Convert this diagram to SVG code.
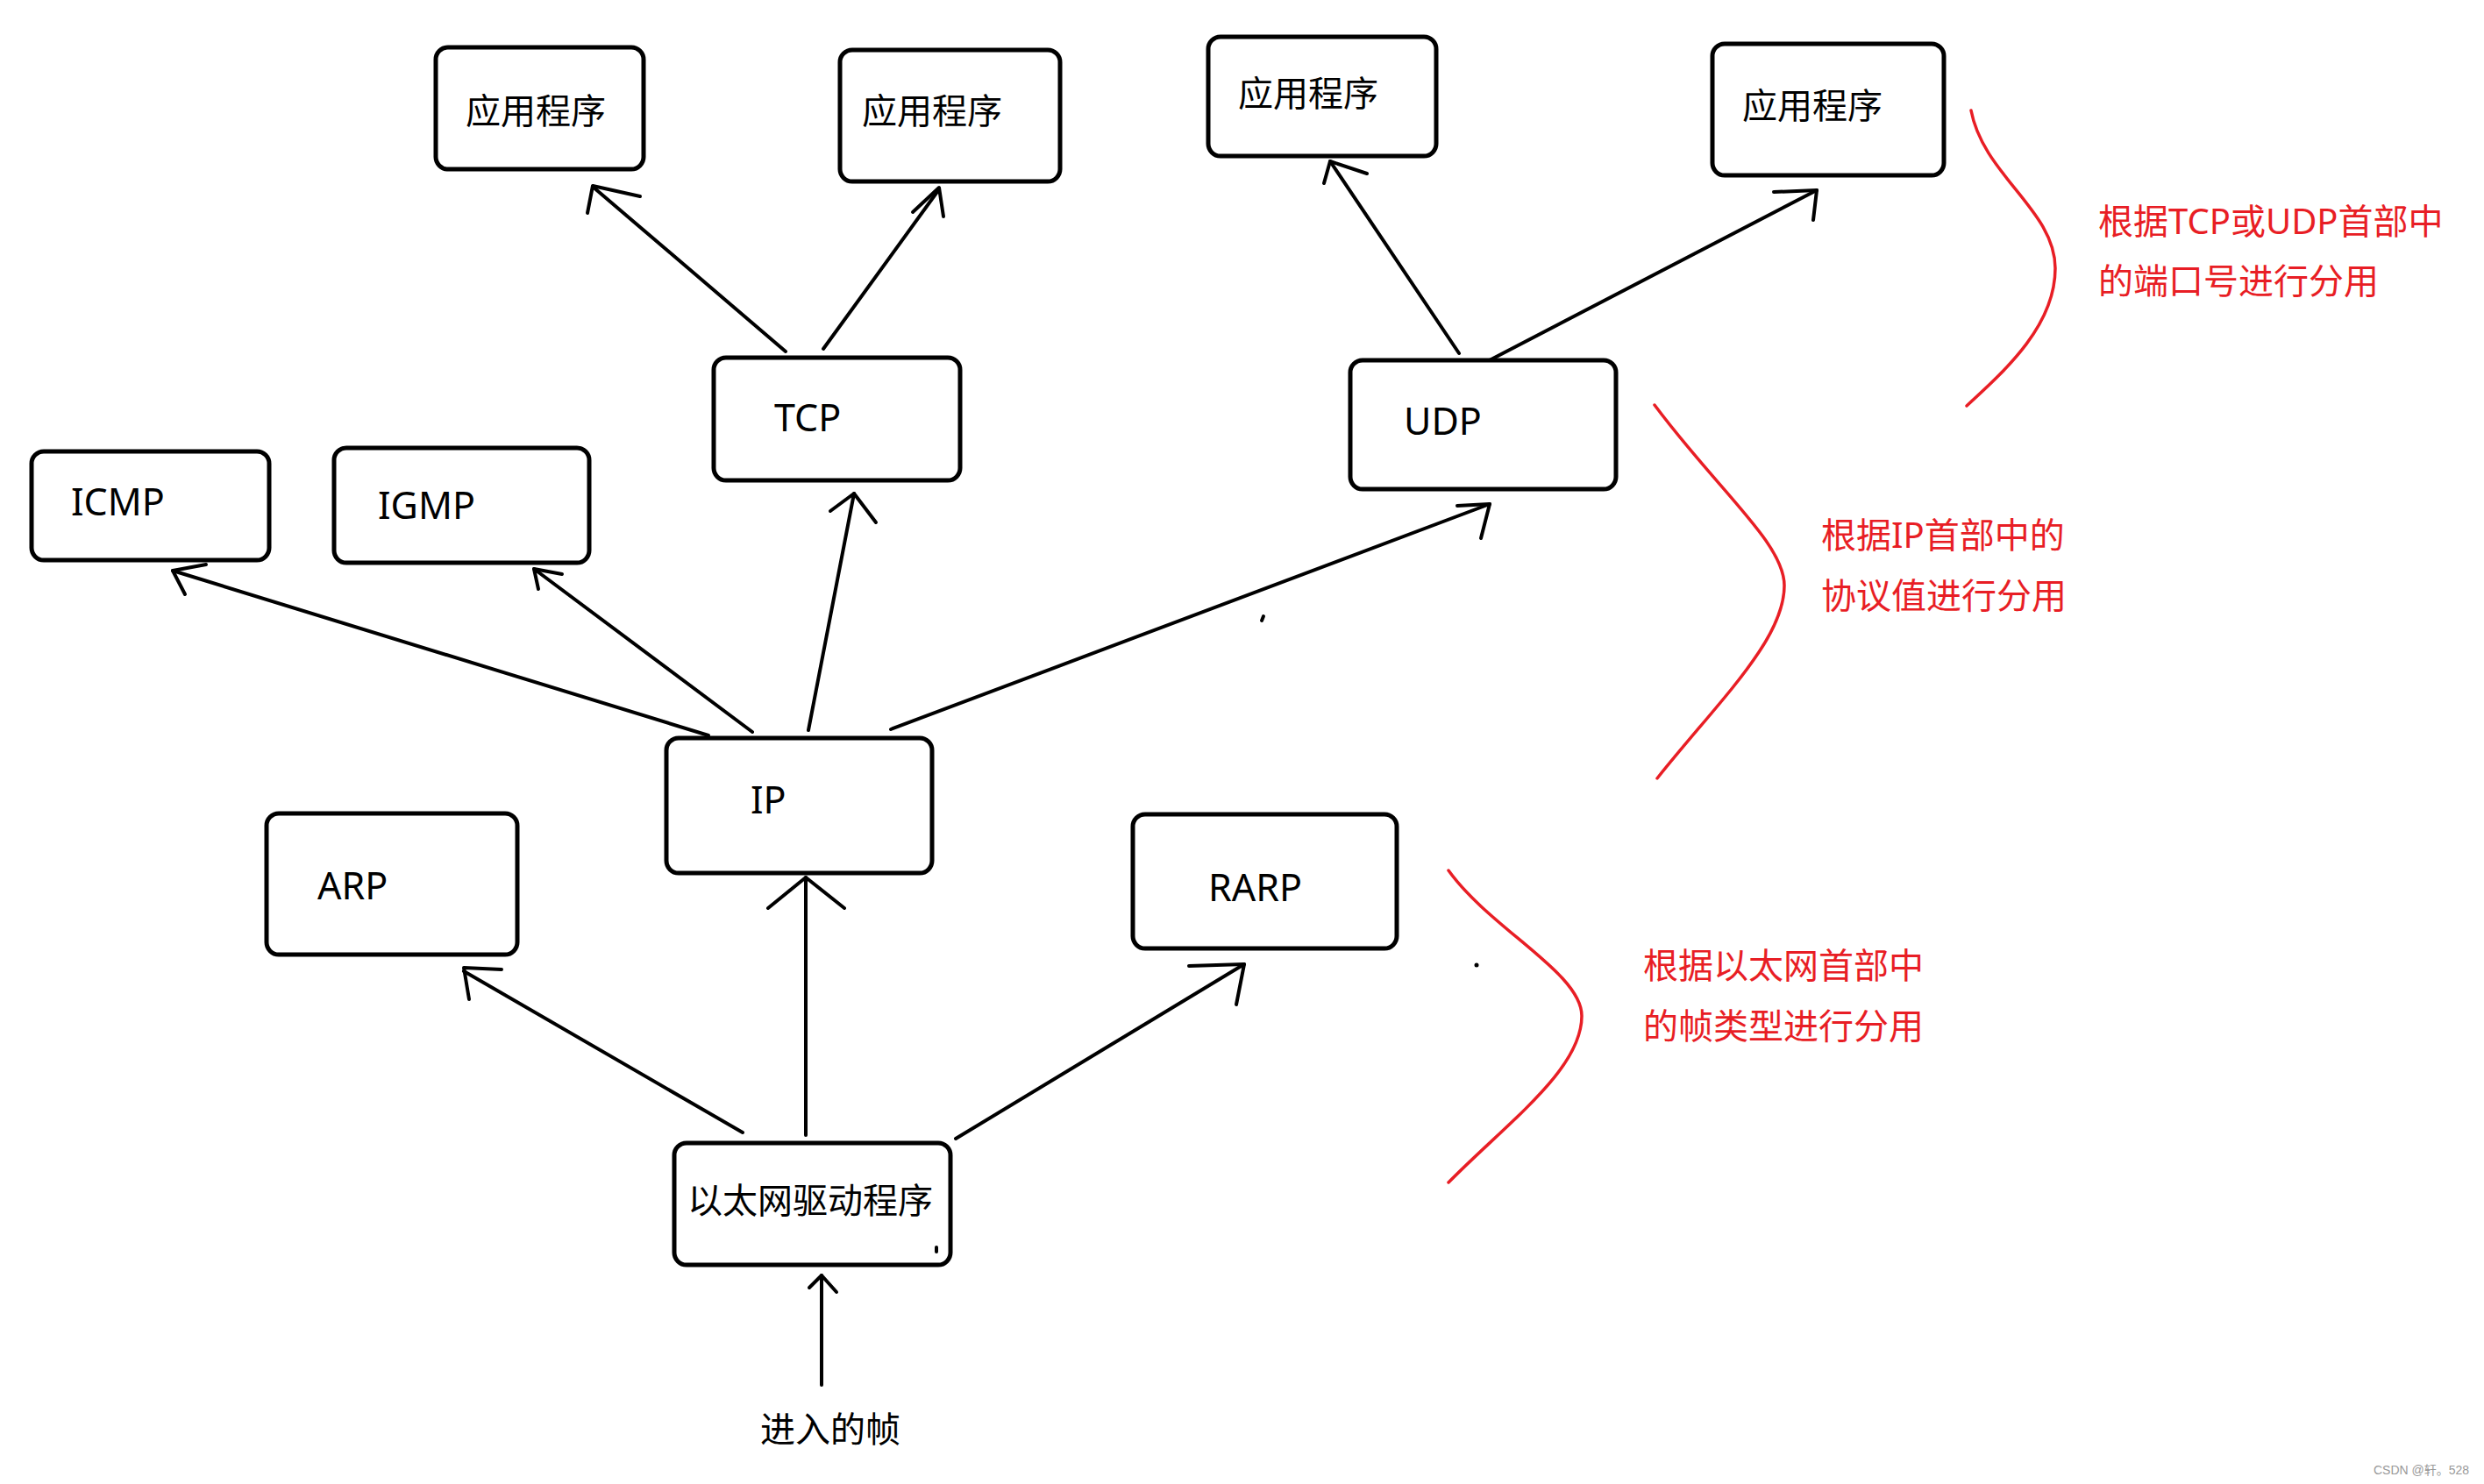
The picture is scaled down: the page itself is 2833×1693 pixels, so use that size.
<svg xmlns="http://www.w3.org/2000/svg" width="2833" height="1693" viewBox="0 0 2833 1693">
<style>
.box{fill:#fff;stroke:#000;stroke-width:5}
.t{font-family:"Noto Sans","Noto Sans CJK SC",sans-serif;font-size:40px;fill:#000}
.lt{font-family:"Noto Sans","Noto Sans CJK SC",sans-serif;font-size:43px;fill:#000}
.r{font-family:"Noto Sans","Noto Sans CJK SC",sans-serif;font-size:40px;fill:#e81e25}
.ln{fill:none;stroke:#000;stroke-width:4;stroke-linecap:round;stroke-linejoin:round}
.rc{fill:none;stroke:#e81e25;stroke-width:3.5;stroke-linecap:round}
</style>
<rect width="2833" height="1693" fill="#fff"/>
<g id="connectors">
<g id="tcp-app1"><path class="ln" d="M896,401 L676,213"/><path class="ln" d="M670,243 L676,212 L730,224"/></g>
<g id="tcp-app2"><path class="ln" d="M939,398 L1071,216"/><path class="ln" d="M1041,242 L1071,214 L1076,247"/></g>
<g id="udp-app3"><path class="ln" d="M1664,403 L1517,184"/><path class="ln" d="M1510,209 L1517,184 L1559,198"/></g>
<g id="udp-app4"><path class="ln" d="M1693,414 L2072,217"/><path class="ln" d="M2023,219 L2072,217 L2068,251"/></g>
<g id="ip-icmp"><path class="ln" d="M808,839 L197,651"/><path class="ln" d="M235,644 L197,651 L211,678"/></g>
<g id="ip-igmp"><path class="ln" d="M858,835 L609,649"/><path class="ln" d="M641,655 L609,649 L614,672"/></g>
<g id="ip-tcp"><path class="ln" d="M922,833 L974,563"/><path class="ln" d="M947,583 L974,563 L999,596"/></g>
<g id="ip-udp"><path class="ln" d="M1016,832 L1699,575"/><path class="ln" d="M1662,577 L1699,575 L1689,614"/></g>
<g id="drv-arp"><path class="ln" d="M847,1292 L529,1108"/><path class="ln" d="M572,1106 L529,1104 L535,1140"/></g>
<g id="drv-ip"><path class="ln" d="M919,1295 L919,1001"/><path class="ln" d="M876,1036 L919,1001 L963,1036"/></g>
<g id="drv-rarp"><path class="ln" d="M1090,1299 L1419,1100"/><path class="ln" d="M1356,1102 L1419,1100 L1410,1146"/></g>
<g id="frame-drv"><path class="ln" d="M937,1580 L937,1455"/><path class="ln" d="M923,1469 L937,1455 L954,1474"/></g>
</g>
<g id="app1"><rect class="box" x="497" y="54" width="237" height="139" rx="14"/><text class="t" x="531" y="141">应用程序</text></g>
<g id="app2"><rect class="box" x="958" y="57" width="251" height="150" rx="14"/><text class="t" x="983" y="141">应用程序</text></g>
<g id="app3"><rect class="box" x="1378" y="42" width="260" height="136" rx="14"/><text class="t" x="1412" y="121">应用程序</text></g>
<g id="app4"><rect class="box" x="1953" y="50" width="264" height="150" rx="14"/><text class="t" x="1987" y="135">应用程序</text></g>
<g id="tcp"><rect class="box" x="814" y="408" width="281" height="140" rx="14"/><text class="lt" x="883" y="492">TCP</text></g>
<g id="udp"><rect class="box" x="1540" y="411" width="303" height="147" rx="14"/><text class="lt" x="1601" y="496">UDP</text></g>
<g id="icmp"><rect class="box" x="36" y="515" width="271" height="124" rx="14"/><text class="lt" x="81" y="588">ICMP</text></g>
<g id="igmp"><rect class="box" x="381" y="511" width="291" height="131" rx="14"/><text class="lt" x="431" y="592">IGMP</text></g>
<g id="ip"><rect class="box" x="760" y="842" width="303" height="154" rx="14"/><text class="lt" x="856" y="928">IP</text></g>
<g id="arp"><rect class="box" x="304" y="928" width="286" height="161" rx="14"/><text class="lt" x="362" y="1026">ARP</text></g>
<g id="rarp"><rect class="box" x="1292" y="929" width="301" height="153" rx="14"/><text class="lt" x="1378" y="1028">RARP</text></g>
<g id="driver"><rect class="box" x="769" y="1304" width="315" height="139" rx="14"/><text class="t" x="784" y="1384">以太网驱动程序</text><path class="ln" d="M1068,1423 L1068,1428"/></g>
<g id="frame"><text class="t" x="867" y="1645">进入的帧</text></g>
<g id="marks"><path class="ln" d="M1441,703 L1439,708" stroke-width="3"/><circle cx="1684" cy="1101" r="2.5" fill="#000"/></g>
<g id="note-port">
<path class="rc" d="M2248,126 C2262,200 2344,240 2344,306 C2344,370 2290,420 2243,463"/>
<text class="r" x="2393" y="267">根据TCP或UDP首部中</text>
<text class="r" x="2393" y="335">的端口号进行分用</text>
</g>
<g id="note-proto">
<path class="rc" d="M1887,462 C1960,560 2035,620 2035,668 C2035,730 1960,800 1890,888"/>
<text class="r" x="2077" y="625">根据IP首部中的</text>
<text class="r" x="2077" y="694">协议值进行分用</text>
</g>
<g id="note-type">
<path class="rc" d="M1652,993 C1700,1060 1804,1110 1804,1159 C1804,1220 1720,1280 1652,1349"/>
<text class="r" x="1874" y="1116">根据以太网首部中</text>
<text class="r" x="1874" y="1185">的帧类型进行分用</text>
</g>
<text x="2707" y="1682" font-family="Liberation Sans, Noto Sans CJK SC, sans-serif" font-size="14" fill="#999">CSDN @轩。528</text>
</svg>
